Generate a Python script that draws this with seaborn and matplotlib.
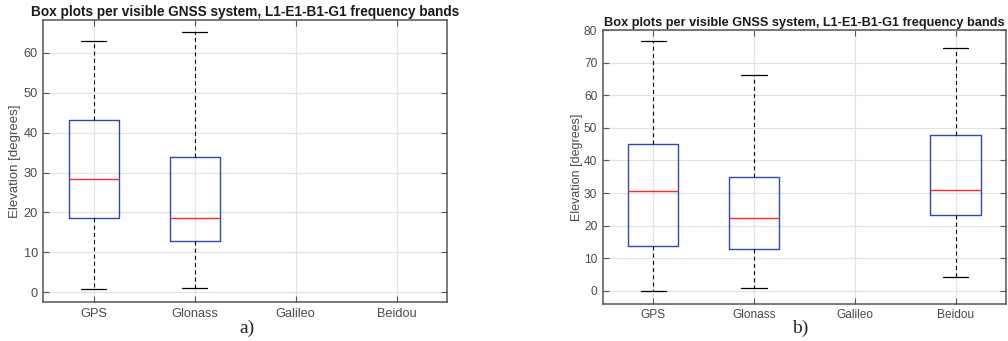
import matplotlib
matplotlib.use("Agg")
import matplotlib.pyplot as plt
import seaborn as sns
import pandas as pd

systems = ["GPS", "Glonass", "Galileo", "Beidou"]
title = "Box plots per visible GNSS system, L1-E1-B1-G1 frequency bands"
ylabel = "Elevation [degrees]"

# five-number summaries per system: [min, q1, median, q3, max]
gps_a = [0.8, 18.5, 28.5, 43.2, 63.0]
glonass_a = [1.0, 12.8, 18.5, 34.0, 65.1]
gps_b = [0.0, 13.8, 30.7, 45.0, 76.5]
glonass_b = [0.8, 12.8, 22.4, 34.9, 66.3]
beidou_b = [4.2, 23.2, 31.1, 47.8, 74.4]

ticks_a = [0, 10, 20, 30, 40, 50, 60]
ticks_b = [0, 10, 20, 30, 40, 50, 60, 70, 80]


def make_df(d):
    rows = []
    for k, vals in d.items():
        for v in vals:
            rows.append({"system": k, "elevation": v})
    return pd.DataFrame(rows)


df_a = make_df({"GPS": gps_a, "Glonass": glonass_a})
df_b = make_df({"GPS": gps_b, "Glonass": glonass_b, "Beidou": beidou_b})

sns.set_style("whitegrid")
plt.rcParams["font.family"] = ["Liberation Sans", "DejaVu Sans"]

fig = plt.figure(figsize=(10.08, 3.41), dpi=100)
ax_a = fig.add_axes([0.043, 0.1135, 0.4005, 0.8278])
ax_b = fig.add_axes([0.598, 0.1094, 0.400, 0.8026])

spine_c = "#555555"
text_c = "#4a4a4a"
box_c = "#2c48b8"


def style(ax, df, ylim, yticks, tfs, lfs, tkfs, lpad):
    sns.boxplot(data=df, x="system", y="elevation", order=systems, width=0.5,
                whis=(0, 100), fill=False, color=box_c, linewidth=1.0,
                medianprops=dict(color="#ff2a2a", linewidth=1.0),
                whiskerprops=dict(color="black", linestyle=(0, (3.5, 3)), linewidth=0.8),
                capprops=dict(color="black", linewidth=0.9),
                ax=ax)
    ax.set_xlim(-0.5, 3.5)
    ax.set_ylim(*ylim)
    ax.set_yticks(yticks)
    ax.set_xlabel("")
    ax.set_ylabel(ylabel, fontsize=lfs, color=text_c, labelpad=lpad)
    ax.set_title(title, fontsize=tfs, fontweight="bold", color="#1a1a1a", pad=3)
    ax.grid(True, color="#e3e3e3", linewidth=0.9)
    ax.set_axisbelow(True)
    for s in ax.spines.values():
        s.set_visible(True)
        s.set_color(spine_c)
        s.set_linewidth(1.1)
    ax.tick_params(axis="both", direction="in", length=4, width=0.8, color=spine_c,
                   labelcolor=text_c, labelsize=tkfs, top=True, right=True,
                   left=True, bottom=True, pad=4)


style(ax_a, df_a, (-2.5, 68.2), ticks_a, 9.8, 9.5, 9.2, 2)
style(ax_b, df_b, (-3.9, 80.0), ticks_b, 9.2, 9.0, 8.55, 1)

fig.text(0.245, 0.037, "a)", fontsize=14, family=["Liberation Serif"], ha="center", va="center")
fig.text(0.794, 0.037, "b)", fontsize=14, family=["Liberation Serif"], ha="center", va="center")

fig.savefig("out.png", dpi=100)
